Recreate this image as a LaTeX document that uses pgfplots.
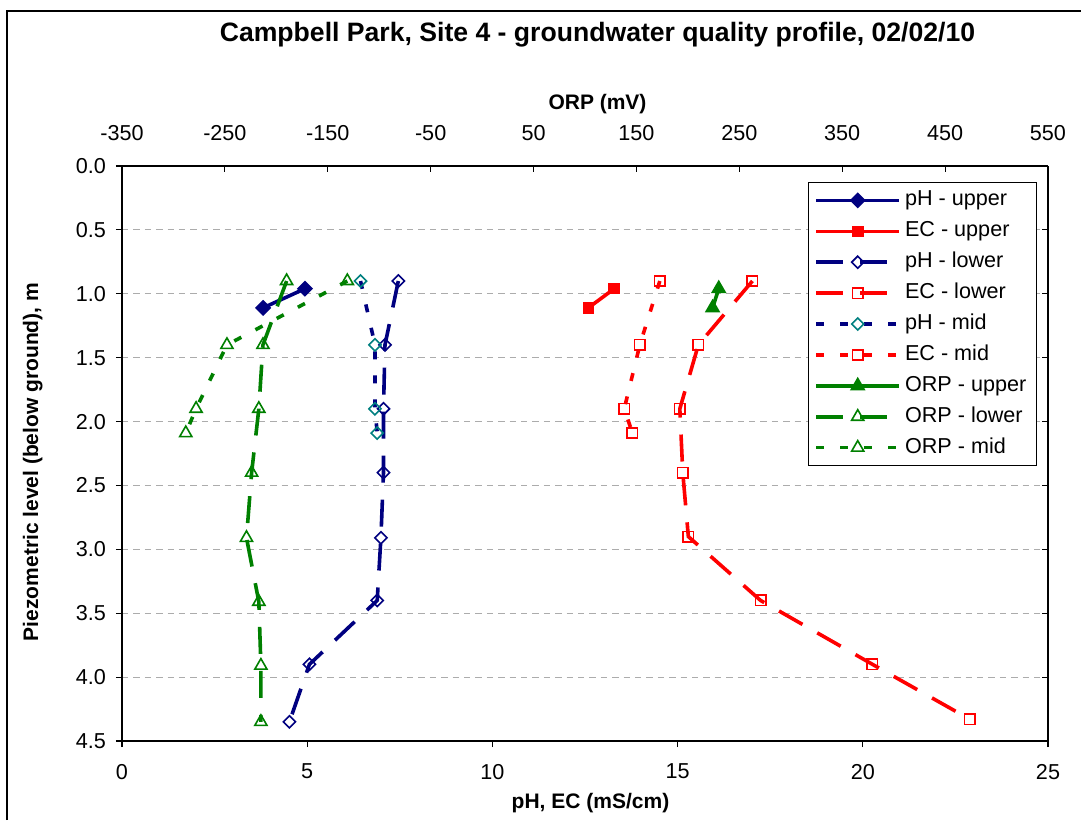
\documentclass[border=0pt]{standalone}
\usepackage{fontspec}
\setmainfont{Liberation Sans}
\usepackage{pgfplots}
\pgfplotsset{compat=1.18}
\definecolor{navy}{RGB}{0,0,128}
\definecolor{xlred}{RGB}{255,0,0}
\definecolor{xlgreen}{RGB}{0,128,0}
\definecolor{xlteal}{RGB}{0,128,128}
\definecolor{gridgray}{RGB}{172,172,172}

\pgfplotstableread{
x y
4.94 0.96
3.81 1.11
}\pHupper
\pgfplotstableread{
x y
13.29 0.96
12.59 1.11
}\ECupper
\pgfplotstableread{
x y
7.46 0.90
7.10 1.40
7.06 1.90
7.06 2.40
6.99 2.91
6.89 3.40
5.06 3.90
4.52 4.35
}\pHlower
\pgfplotstableread{
x y
17.02 0.90
15.56 1.40
15.06 1.90
15.14 2.40
15.29 2.90
17.24 3.40
20.26 3.90
22.89 4.33
}\EClower
\pgfplotstableread{
x y
6.44 0.90
6.83 1.40
6.83 1.90
6.89 2.09
}\pHmid
\pgfplotstableread{
x y
14.52 0.90
13.98 1.40
13.56 1.90
13.78 2.09
}\ECmid
\pgfplotstableread{
x y
230 0.96
224 1.11
}\ORPupper
\pgfplotstableread{
x y
-190 0.90
-213 1.40
-217 1.90
-224 2.40
-229 2.91
-217 3.41
-215 3.91
-215 4.35
}\ORPlower
\pgfplotstableread{
x y
-131 0.90
-248 1.40
-278 1.90
-288 2.09
}\ORPmid

\pgfplotsset{
  common/.style={
    scale only axis, width=463pt, height=287.5pt,
    ymin=0, ymax=4.5, y dir=reverse,
    ytick={0,0.5,1,1.5,2,2.5,3,3.5,4,4.5},
    axis line style={-, line width=0.6pt, black},
    every outer x axis line/.append style={-},
    every outer y axis line/.append style={-},
    tick style={line width=0.6pt, black},
    major tick length=3pt,
    tick label style={font=\fontsize{10.8}{13}\selectfont},
  },
  sup/.style={solid, line width=1.8pt},
  slow/.style={dash pattern=on 13.5pt off 8.5pt, line width=1.8pt},
  smid/.style={dash pattern=on 4pt off 8pt, line width=1.8pt},
  pHupS/.style={navy, sup, mark=square*, mark options={solid, rotate=45, fill=navy, mark size=2.45pt, line width=0.8pt}},
  ECupS/.style={xlred, sup, mark=square*, mark options={solid, fill=xlred, mark size=2.5pt, line width=0.8pt}},
  pHlowS/.style={navy, slow, mark=square, mark options={solid, rotate=45, mark size=2.15pt, line width=0.8pt}},
  EClowS/.style={xlred, slow, mark=square, mark options={solid, mark size=2.6pt, line width=0.8pt}},
  pHmidS/.style={navy, smid, mark=square, mark options={solid, rotate=45, draw=xlteal, mark size=2.15pt, line width=0.8pt}},
  ECmidS/.style={xlred, smid, mark=square, mark options={solid, mark size=2.6pt, line width=0.8pt}},
  ORPupS/.style={xlgreen, sup, mark=triangle*, mark options={solid, fill=xlgreen, mark size=3.7pt, line width=0.8pt}},
  ORPlowS/.style={xlgreen, slow, mark=triangle, mark options={solid, mark size=3.5pt, line width=0.8pt}},
  ORPmidS/.style={xlgreen, smid, mark=triangle, mark options={solid, mark size=3.5pt, line width=0.8pt}},
}

\begin{document}
\begin{tikzpicture}[x=1pt,y=1pt]
\useasboundingbox (-61,-39.5) rectangle (479.5,370.5);
\fill[white] (-61,-39.5) rectangle (479.5,370.5);
\draw[line width=0.7pt, black] (-57.5,-39.5) -- (-57.5,365) -- (479.5,365);

\begin{axis}[common,
  xmin=0, xmax=25,
  xtick={0,5,10,15,20,25},
  xticklabels={0,5,10,15,20,25},
  yticklabels={0.0,0.5,1.0,1.5,2.0,2.5,3.0,3.5,4.0,4.5},
  axis x line*=bottom, axis y line*=left,
  tick align=outside,
  xticklabel shift=5pt,
  yticklabel shift=1.5pt,
  ymajorgrids,
  grid style={dash pattern=on 3.2pt off 2.5pt, gridgray, line width=0.6pt},
]
\addplot[pHupS] table[x=x,y=y] {\pHupper};
\addplot[ECupS] table[x=x,y=y] {\ECupper};
\addplot[pHlowS] table[x=x,y=y] {\pHlower};
\addplot[EClowS] table[x=x,y=y] {\EClower};
\addplot[pHmidS] table[x=x,y=y] {\pHmid};
\addplot[ECmidS] table[x=x,y=y] {\ECmid};
\end{axis}

\begin{axis}[common,
  xmin=-350, xmax=550,
  xtick={-350,-250,-150,-50,50,150,250,350,450,550},
  xticklabels={-350,-250,-150,-50,50,150,250,350,450,550},
  yticklabels={},
  axis x line*=top, axis y line*=right,
  tick align=inside,
  xticklabel shift=9pt,
  legend style={at={(0.988,0.972)}, anchor=north east, draw=black, line width=0.6pt,
    font=\fontsize{10.8}{13}\selectfont, fill=white,
    inner xsep=3pt, inner ysep=2pt, row sep=1.75pt,
    nodes={inner xsep=2pt, inner ysep=1.6pt, text height=8pt, text depth=2.5pt}},
  legend cell align=left,
  legend image code/.code={\draw[mark repeat=2,mark phase=2,#1] plot coordinates {(0pt,0pt) (20.75pt,0pt) (41.5pt,0pt)};},
]
\addlegendimage{pHupS}
\addlegendentry{pH - upper}
\addlegendimage{ECupS}
\addlegendentry{EC - upper}
\addlegendimage{pHlowS}
\addlegendentry{pH - lower}
\addlegendimage{EClowS}
\addlegendentry{EC - lower}
\addlegendimage{pHmidS}
\addlegendentry{pH - mid}
\addlegendimage{ECmidS}
\addlegendentry{EC - mid}
\addplot[ORPupS] table[x=x,y=y] {\ORPupper};
\addlegendentry{ORP - upper}
\addplot[ORPlowS] table[x=x,y=y] {\ORPlower};
\addlegendentry{ORP - lower}
\addplot[ORPmidS] table[x=x,y=y] {\ORPmid};
\addlegendentry{ORP - mid}
\end{axis}

\node[anchor=base, font=\bfseries\fontsize{13.3}{16}\selectfont] at (237.75,349.5) {Campbell Park, Site 4 - groundwater quality profile, 02/02/10};
\node[anchor=base, font=\bfseries\fontsize{10.5}{13}\selectfont] at (237.75,315.5) {ORP (mV)};
\node[anchor=base, font=\bfseries\fontsize{10.5}{13}\selectfont] at (234.25,-33.5) {pH, EC (mS/cm)};
\node[anchor=base, rotate=90, font=\bfseries\fontsize{10.5}{13}\selectfont] at (-42,139.5) {Piezometric level (below ground), m};
\end{tikzpicture}
\end{document}
